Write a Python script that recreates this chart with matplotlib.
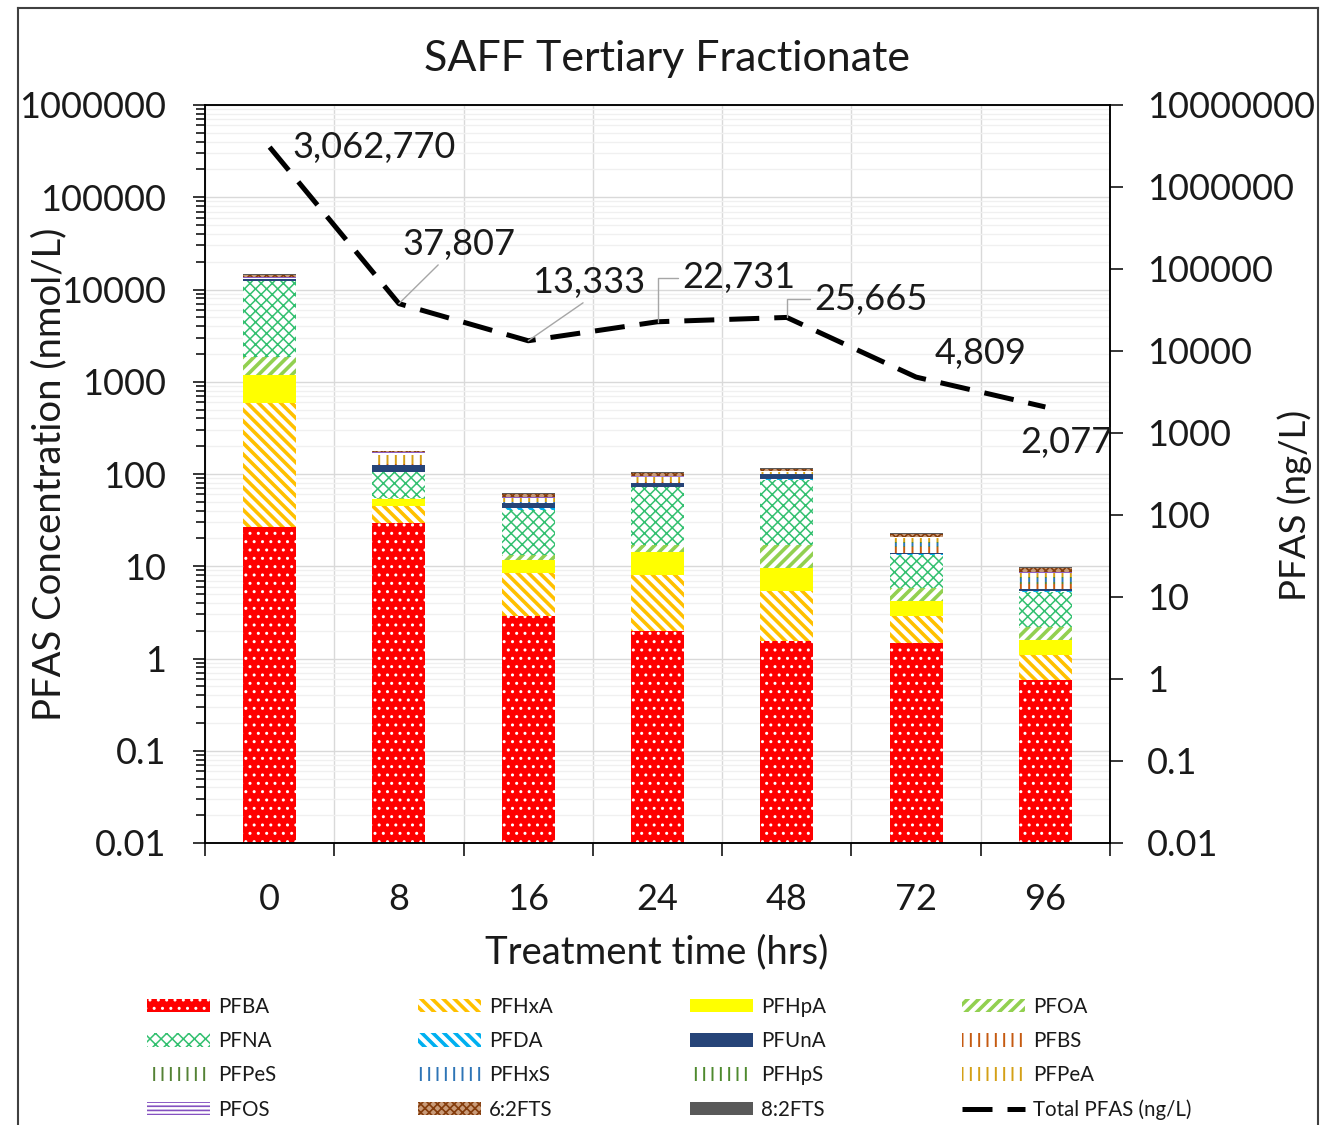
import matplotlib
matplotlib.use('Agg')
import matplotlib.pyplot as plt
import numpy as np
from matplotlib.lines import Line2D
from matplotlib.ticker import FixedLocator, LogLocator, NullFormatter

plt.rcParams['font.family'] = ['Lato', 'DejaVu Sans']

# ---------------- data ----------------
times = ['0', '8', '16', '24', '48', '72', '96']
PFBA  = [26.6, 29.4, 2.89, 1.99, 1.55, 1.47, 0.585]
PFHxA = [562, 15.6, 5.56, 6.0, 3.85, 1.42, 0.505]
PFHpA = [594, 8.6, 3.25, 6.3, 4.2, 1.31, 0.50]
PFOA  = [667, 1.4, 1.5, 2.7, 7.4, 1.6, 0.60]
PFNA  = [10520, 50, 27.5, 55, 69, 7.4, 3.07]
PFDA  = [50, 1.0, 1.8, 1.0, 2.0, 0.4, 0.09]
PFUnA = [580, 19, 6.0, 7.0, 12, 0.3, 0.31]
PFBS  = [0, 2.0, 0.5, 1.0, 1.0, 2.1, 0.84]
PFPeS = [0, 0, 0, 0, 0, 0.5, 0.2]
PFHxS = [0, 0, 0.5, 0, 0, 1.5, 0.7]
PFHpS = [0, 0, 0, 0, 0, 0.3, 0.2]
PFPeA = [100, 33, 5.5, 12, 4.0, 1.7, 0.85]
PFOS  = [400, 12, 1.0, 2.0, 2.0, 1.0, 0.15]
FTS62 = [1000, 4.0, 5.0, 8.0, 7.0, 1.3, 1.0]
FTS82 = [300, 3.0, 2.0, 3.0, 3.0, 0.7, 0.3]
total_ngL = [3062770, 37807, 13333, 22731, 25665, 4809, 2077]

left_ticks = [0.01, 0.1, 1, 10, 100, 1000, 10000, 100000, 1000000]
left_labels = ['0.01', '0.1', '1', '10', '100', '1000', '10000', '100000', '1000000']
right_ticks = [0.01, 0.1, 1, 10, 100, 1000, 10000, 100000, 1000000, 10000000]
right_labels = ['0.01', '0.1', '1', '10', '100', '1000', '10000', '100000', '1000000', '10000000']

series = [
    ('PFBA', PFBA), ('PFHxA', PFHxA), ('PFHpA', PFHpA), ('PFOA', PFOA),
    ('PFNA', PFNA), ('PFDA', PFDA), ('PFUnA', PFUnA), ('PFBS', PFBS),
    ('PFPeS', PFPeS), ('PFHxS', PFHxS), ('PFHpS', PFHpS), ('PFPeA', PFPeA),
    ('PFOS', PFOS), ('6:2FTS', FTS62), ('8:2FTS', FTS82),
]

# styles: facecolor, hatch colour, hatch, hatch linewidth
styles = {
    'PFBA':   ('#FF0000', 'white',   '..',     1.0),
    'PFHxA':  ('white',   '#FFC000', '\\\\\\', 2.6),
    'PFHpA':  ('#FFFF00', '#FFFF00', None,     1.0),
    'PFOA':   ('white',   '#92D050', '///',    2.6),
    'PFNA':   ('white',   '#33C070', 'xxx',    1.1),
    'PFDA':   ('white',   '#00B0F0', '\\\\\\', 2.6),
    'PFUnA':  ('#264478', '#264478', None,     1.0),
    'PFBS':   ('white',   '#C55A11', '||',     1.4),
    'PFPeS':  ('white',   '#548235', '||',     1.4),
    'PFHxS':  ('white',   '#2E75B6', '||',     1.4),
    'PFHpS':  ('white',   '#4E8A2E', '||',     1.4),
    'PFPeA':  ('white',   '#D4A017', '||',     1.4),
    'PFOS':   ('white',   '#8451C0', '----',   1.2),
    '6:2FTS': ('#C89A78', '#843C0C', 'xxxx',   1.2),
    '8:2FTS': ('#595959', '#595959', None,     1.0),
}

W, H = 1327, 1125
fig = plt.figure(figsize=(W / 100, H / 100), dpi=100)
fig.patch.set_facecolor('white')

ax = fig.add_axes([205 / W, 1 - 843 / H, 905 / W, 738 / H])
ax.set_yscale('log')
ax.set_ylim(0.01, 1e6)
x = np.arange(len(times))
ax.set_xlim(-0.5, len(times) - 0.5)
ax.set_axisbelow(True)

bottom = np.zeros(len(times))
handles = {}
for name, vals in series:
    fc, hc, hatch, hlw = styles[name]
    vals = np.array(vals, dtype=float)
    with plt.rc_context({'hatch.linewidth': hlw}):
        bars = ax.bar(x, vals, width=0.41, bottom=bottom, color=fc,
                      edgecolor=hc, hatch=hatch, linewidth=0, label=name, zorder=2)
    for p in bars.patches:
        if hasattr(p, 'set_hatch_linewidth'):
            p.set_hatch_linewidth(hlw)
    handles[name] = bars
    bottom = bottom + vals

TS = 26
txtc = '#1a1a1a'

# grids and ticks
ax.yaxis.set_major_locator(FixedLocator(left_ticks))
ax.set_yticklabels(left_labels)
ax.yaxis.set_minor_locator(LogLocator(base=10, subs=np.arange(2, 10), numticks=100))
ax.yaxis.set_minor_formatter(NullFormatter())
ax.grid(axis='y', which='major', color='#D9D9D9', lw=1.0, zorder=0)
ax.grid(axis='y', which='minor', color='#F0F0F0', lw=1.0, zorder=0)
ax.set_xticks(x)
ax.set_xticklabels(times)
ax.set_xticks(np.arange(-0.5, len(times), 1), minor=True)
ax.grid(axis='x', which='minor', color='#D9D9D9', lw=1.0, zorder=0)

ax.tick_params(axis='y', which='major', direction='out', length=9, width=1.1,
               labelsize=TS, pad=19, colors='black', labelcolor=txtc)
ax.tick_params(axis='y', which='minor', direction='out', length=6.5, width=1.1, colors='black')
ax.tick_params(axis='x', which='major', length=0, labelsize=TS, pad=29, labelcolor=txtc)
ax.tick_params(axis='x', which='minor', direction='out', length=9, width=1.1, colors='black')
for s in ax.spines.values():
    s.set_color('black')
    s.set_linewidth(1.1)
ax.set_ylabel('PFAS Concentration (nmol/L)', fontsize=27.5, color=txtc)
ax.yaxis.set_label_coords(-0.152, 0.5)

# right axis: total PFAS
ax2 = ax.twinx()
ax2.set_yscale('log')
ax2.set_ylim(0.01, 1e7)
ax2.yaxis.set_major_locator(FixedLocator(right_ticks))
ax2.set_yticklabels(right_labels)
ax2.yaxis.set_minor_locator(FixedLocator([]))
ax2.tick_params(axis='y', which='major', direction='out', length=9.5, width=1.1,
                labelsize=TS, pad=17, colors='black', labelcolor=txtc)
for s in ax2.spines.values():
    s.set_color('black')
    s.set_linewidth(1.1)
ax2.set_ylabel('PFAS (ng/L)', fontsize=26.4, color=txtc, rotation=90)
ax2.yaxis.set_label_coords(1.185, 0.457)

line, = ax2.plot(x, total_ngL, color='black', lw=3.6, dashes=(6, 3),
                 label='Total PFAS (ng/L)', zorder=5)

# data labels (offsets in pixels, leader line styles)
label_pos = [
    ((23, 0), 'left', None, None),
    ((60, 59), 'center', (0.35, 0.0), 'arc3'),
    ((60, 58), 'center', (0.5, 0.0), 'arc3'),
    ((81, 44), 'center', (0.0, 0.5), 'angle,angleA=0,angleB=90,rad=0'),
    ((84, 18), 'center', (0.0, 0.5), 'angle,angleA=0,angleB=90,rad=0'),
    ((65, 24), 'center', None, None),
    ((21, -36), 'center', None, None),
]
for xi, v, (off, ha, relpos, cs) in zip(x, total_ngL, label_pos):
    kw = {}
    if relpos is not None:
        kw['arrowprops'] = dict(arrowstyle='-', color='#A6A6A6', lw=1.0,
                                relpos=relpos, connectionstyle=cs,
                                shrinkA=1, shrinkB=0)
    ax2.annotate(f'{v:,}', xy=(xi, v), xytext=off, textcoords='offset pixels',
                 ha=ha, va='center', fontsize=TS, color=txtc, zorder=6, **kw)

# title and x label
fig.text(667 / W, 1 - 59 / H, 'SAFF Tertiary Fractionate', ha='center', va='center',
         fontsize=31, color=txtc)
fig.text(657 / W, 1 - 952 / H, 'Treatment time (hrs)', ha='center', va='center',
         fontsize=27.5, color=txtc)

# legend: 4 columns placed separately, row-major order
order = ['PFBA', 'PFHxA', 'PFHpA', 'PFOA', 'PFNA', 'PFDA', 'PFUnA', 'PFBS',
         'PFPeS', 'PFHxS', 'PFHpS', 'PFPeA', 'PFOS', '6:2FTS', '8:2FTS', 'Total PFAS (ng/L)']
col_x = [147, 418, 690, 962]
LF = 14.8
for c in range(4):
    names = order[c::4]
    hs = [line if n.startswith('Total') else handles[n] for n in names]
    leg = fig.legend(hs, names, loc='upper left',
                     bbox_to_anchor=(col_x[c] / W, 1 - 997 / H),
                     bbox_transform=fig.transFigure, frameon=False, fontsize=LF,
                     borderpad=0, borderaxespad=0, handlelength=63 / (LF * 1.389),
                     handleheight=0.62, handletextpad=0.4, labelspacing=0.69,
                     labelcolor=txtc)
    for n, lh in zip(names, leg.legend_handles):
        if n in styles and hasattr(lh, 'set_hatch_linewidth'):
            lh.set_hatch_linewidth(styles[n][3])

# outer border (left, top, right)
bc = '#404040'
fig.add_artist(Line2D([18 / W, 18 / W], [0, 1 - 8 / H], transform=fig.transFigure, color=bc, lw=1.5))
fig.add_artist(Line2D([18 / W, 1318 / W], [1 - 8 / H, 1 - 8 / H], transform=fig.transFigure, color=bc, lw=1.5))
fig.add_artist(Line2D([1318 / W, 1318 / W], [0, 1 - 8 / H], transform=fig.transFigure, color=bc, lw=1.5))

fig.savefig('out.png', dpi=100, facecolor='white')
